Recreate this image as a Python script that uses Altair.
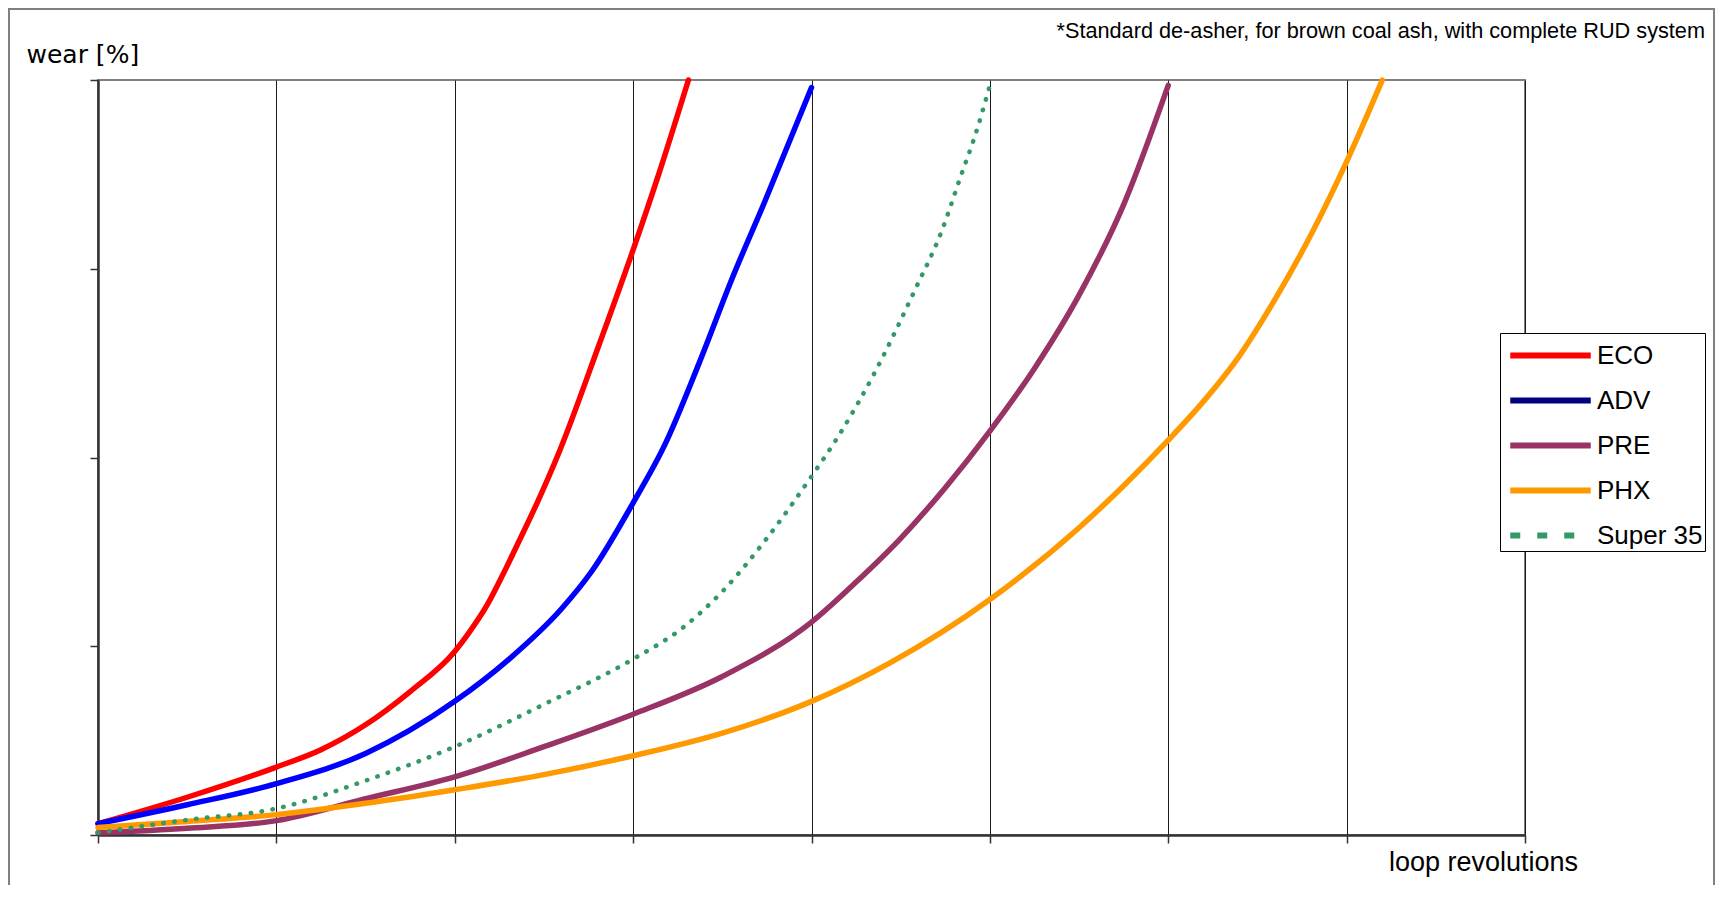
import altair as alt
import pandas as pd

# ---- data (x: loop revolutions in gridline units, y: wear in %) ----
series = ["ECO", "ADV", "PRE", "PHX", "Super 35"]
line_colors = ["#FF0000", "#0000FF", "#993366", "#FF9900", "#339966"]
legend_colors = ["#FF0000", "#000080", "#993366", "#FF9900", "#339966"]
legend_dashes = [[1, 0], [1, 0], [1, 0], [1, 0], [10, 17]]
legend_widths = [6, 6, 6, 6, 3]

eco_x = [0, 0.5, 1, 1.25, 1.5, 1.75, 2, 2.08, 2.18, 2.27, 2.36, 2.46, 2.59, 2.81, 3, 3.15, 3.31]
eco_y = [1.5, 5, 9, 11.3, 14.6, 19, 24.3, 26.8, 30.4, 34.5, 38.9, 43.9, 51, 65, 77.5, 88, 100]

adv_x = [0, 0.5, 1, 1.5, 2, 2.3, 2.6, 2.77, 3, 3.18, 3.37, 3.56, 3.74, 4.0]
adv_y = [1.5, 4, 6.8, 10.8, 17.7, 23.2, 30, 35, 44, 51.8, 62.5, 74, 84, 99]

pre_x = [0, 0.5, 1, 1.5, 2, 2.5, 3, 3.5, 4, 4.25, 4.5, 4.75, 5, 5.25, 5.5, 5.75, 6]
pre_y = [0.3, 0.9, 1.9, 4.8, 7.7, 11.7, 16, 21, 28.2, 33.5, 39.3, 46, 53.5, 61.8, 71.5, 83.5, 99.3]

phx_x = [0, 0.5, 1, 1.5, 2, 2.5, 3, 3.5, 4, 4.44, 5, 5.5, 5.76, 6, 6.2, 6.4, 6.6, 6.8, 7, 7.2]
phx_y = [1, 1.8, 2.7, 4.2, 6, 8, 10.5, 13.5, 17.7, 22.8, 31.2, 40.7, 46.5, 52.3, 57.5, 63.5,
         71, 79.5, 89.2, 100]

s35_x = [0, 0.5, 1, 1.5, 2, 2.5, 3, 3.27, 3.51, 3.74, 4, 4.15, 4.36, 4.58, 4.73, 4.83, 4.93, 5.0]
s35_y = [0.3, 2, 3.5, 7.2, 11.7, 17.3, 23.3, 27.3, 32.5, 39, 47.5, 52.8, 61.5, 72.2, 80, 86.8,
         93.6, 99.3]

x_ticks = [0, 1, 2, 3, 4, 5, 6, 7, 8]
y_ticks = [0, 25, 50, 75, 100]

rows = []
for name, xs, ys in [("ECO", eco_x, eco_y), ("ADV", adv_x, adv_y), ("PRE", pre_x, pre_y),
                     ("PHX", phx_x, phx_y), ("Super 35", s35_x, s35_y)]:
    for xv, yv in zip(xs, ys):
        rows.append({"series": name, "legend": name, "rev": xv, "wear": yv})
df = pd.DataFrame(rows)

x_enc = alt.X("rev:Q",
              scale=alt.Scale(domain=[0, 8], nice=False, zero=False),
              axis=alt.Axis(values=x_ticks, labels=False, tickSize=8, tickColor="#333333",
                            tickWidth=1.5, grid=True, gridColor="#1a1a1a", gridWidth=1,
                            domainColor="#333333", domainWidth=2.5,
                            title="loop revolutions", titleX=1385, titleY=27,
                            titleAlign="center", titleBaseline="middle",
                            titleFont="Liberation Sans", titleFontSize=27,
                            titleFontWeight="normal", titleColor="black"))
y_enc = alt.Y("wear:Q",
              scale=alt.Scale(domain=[0, 100], nice=False, zero=False),
              axis=alt.Axis(values=y_ticks, labels=False, tickSize=8, tickColor="#333333",
                            tickWidth=1.5, grid=False,
                            domainColor="#333333", domainWidth=2.5,
                            title="wear [%]", titleX=-72, titleY=-26, titleAngle=0,
                            titleAlign="left", titleBaseline="middle",
                            titleFont="DejaVu Sans", titleFontSize=25,
                            titleFontWeight="normal", titleColor="black"))

leg = alt.Legend(
    title=None, orient="none", legendX=1402, legendY=253,
    symbolType="M-2.3,0H2.3", symbolSize=1225,
    symbolOffset=28, labelOffset=26, symbolOpacity=1,
    labelFont="Liberation Sans", labelFontSize=26, labelColor="black",
    rowPadding=11, padding=2, strokeColor="black", fillColor="white",
)

frame = alt.Chart(pd.DataFrame({"k": [0]})).mark_rect(
    fill="white", fillOpacity=0, stroke="#808080", strokeWidth=2
).encode(x=alt.value(-89), x2=alt.value(1616), y=alt.value(-71), y2=alt.value(950))

# invisible layer that only carries the legend (legend colours/dashes differ slightly)
legend_layer = alt.Chart(df).mark_line(opacity=0, strokeCap="butt").encode(
    x=x_enc, y=y_enc,
    stroke=alt.Stroke("legend:N", scale=alt.Scale(domain=series, range=legend_colors), legend=leg),
    strokeDash=alt.StrokeDash("legend:N", scale=alt.Scale(domain=series, range=legend_dashes),
                              legend=leg),
    strokeWidth=alt.StrokeWidth("legend:N", scale=alt.Scale(domain=series, range=legend_widths),
                                legend=leg),
    order="rev:Q",
)

solid = alt.Chart(df).transform_filter(
    alt.datum.series != "Super 35"
).mark_line(interpolate="monotone", strokeCap="round", strokeWidth=5.5).encode(
    x=x_enc, y=y_enc,
    color=alt.Color("series:N", scale=alt.Scale(domain=series, range=line_colors), legend=None),
    order="rev:Q",
)

dotted = alt.Chart(df).transform_filter(
    alt.datum.series == "Super 35"
).mark_line(interpolate="monotone", strokeCap="round", strokeWidth=4.5,
            strokeDash=[0.5, 10.5], color="#339966").encode(
    x=x_enc, y=y_enc,
    order="rev:Q",
)

chart = alt.layer(frame, legend_layer, solid, dotted).properties(
    width=1427, height=755,
    autosize=alt.AutoSizeParams(type="none"),
    padding={"left": 90, "top": 72, "right": 191, "bottom": 50},
    background="white",
    title=alt.TitleParams("*Standard de-asher, for brown coal ash, with complete RUD system",
                          anchor="end", frame="group", dx=180, dy=35, offset=0,
                          font="Liberation Sans", fontSize=21.7, fontWeight="normal",
                          color="black"),
).configure_view(stroke="#808080", strokeWidth=2)

chart.save("out.html", embed_options={"renderer": "svg", "actions": False})
